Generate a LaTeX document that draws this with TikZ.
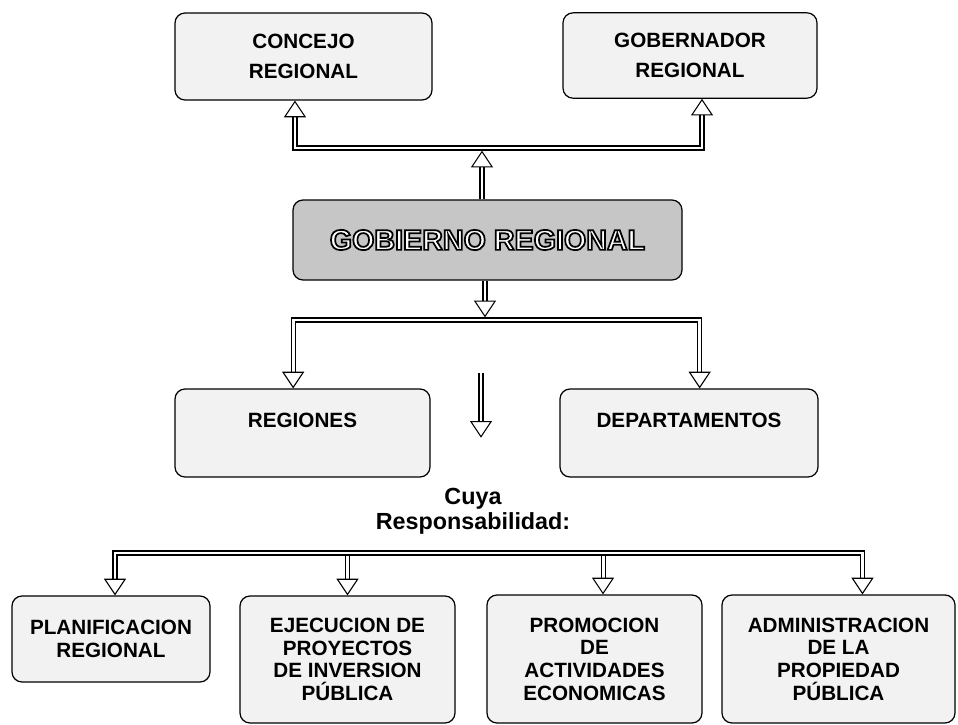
\documentclass[tikz,border=0pt]{standalone}
\usepackage{fontspec}
\setmainfont{Liberation Sans}
\usetikzlibrary{arrows.meta, positioning, calc}
\newcommand{\hollowtext}[1]{\color{white}\special{pdf:literal direct 0 G 1.3 w 2 Tr}#1\special{pdf:literal direct 0 Tr}}
\tikzstyle{conn} = [draw=black, line width=0.8pt, double=white, double distance=2.2pt, line join=miter, >={Triangle[open, length=12.5pt, width=16.5pt]}]
\tikzstyle{unit} = [rectangle, rounded corners=7.5pt, draw=black, line width=0.9pt, fill=gray!10, text centered, align=center, inner sep=4pt, font=\bfseries\fontsize{15.5}{17}\selectfont]
\tikzstyle{head} = [unit, fill=gray!45, font=\bfseries\fontsize{21.5}{24}\selectfont]

\begin{document}
\begin{tikzpicture}[x=0.75pt, y=-0.75pt]
\useasboundingbox (0,0) rectangle (958,725);

\node[unit, minimum width=192.75pt, minimum height=65.25pt, font=\bfseries\fontsize{15.5}{22.5}\selectfont] (concejo) at (303.5,56.5) {CONCEJO\\REGIONAL};
\node[unit, minimum width=190.5pt, minimum height=64pt, font=\bfseries\fontsize{15.5}{22.5}\selectfont] (gobernador) at (690,55.5) {GOBERNADOR\\REGIONAL};
\node[head, minimum width=291.75pt, minimum height=60pt] (gobierno) at (487.5,240) {\hollowtext{GOBIERNO REGIONAL}};
\node[unit, minimum width=191.25pt, text height=24.5pt, text depth=33.5pt] (regiones) at (302.5,433) {REGIONES};
\node[unit, minimum width=193.5pt, text height=24.5pt, text depth=33.5pt] (departamentos) at (689,433) {DEPARTAMENTOS};
\node[font=\bfseries\fontsize{17.5}{19}\selectfont, align=center] (cuya) at (473,511) {Cuya\\Responsabilidad:};
\node[unit, minimum width=148.5pt, minimum height=64.5pt] (planificacion) at (111,639) {PLANIFICACION\\REGIONAL};
\node[unit, minimum width=161.25pt, minimum height=95.25pt] (ejecucion) at (347.5,659.5) {EJECUCION DE\\PROYECTOS\\DE INVERSION\\P\'UBLICA};
\node[unit, minimum width=161.25pt, minimum height=96pt] (promocion) at (594.5,659) {PROMOCION\\DE\\ACTIVIDADES\\ECONOMICAS};
\node[unit, minimum width=174.75pt, minimum height=96pt] (administracion) at (838.5,659) {ADMINISTRACION\\DE LA\\PROPIEDAD\\P\'UBLICA};

\coordinate (upfork) at (482,148);
\coordinate (downfork) at (485,320);
\coordinate (lone) at (481,373);
\coordinate (basefork) at (481,553);
\coordinate (promtop) at ([xshift=6.4pt]promocion.north);
\coordinate (admintop) at ([xshift=18pt]administracion.north);

\draw[conn, <->] ([xshift=-6.4pt]concejo.south) |- (upfork) -| ([xshift=9pt]gobernador.south);
\draw[conn, ->] (gobierno.north -| upfork) -- ([yshift=-2pt]upfork);

\draw[conn, ->] (gobierno.south -| downfork) -- ([yshift=2pt]downfork);
\draw[conn, <->] ([xshift=-7pt]regiones.north) |- (downfork) -| ([xshift=8pt]departamentos.north);

\draw[conn, ->, shorten >=34pt] (lone) -- (lone |- cuya.north);

\draw[conn, ->] (ejecucion.north |- basefork) -- (ejecucion.north);
\draw[conn, ->] (promtop |- basefork) -- (promtop);
\draw[conn, <->] ([xshift=3pt]planificacion.north) |- (basefork) -| (admintop);

\end{tikzpicture}
\end{document}
